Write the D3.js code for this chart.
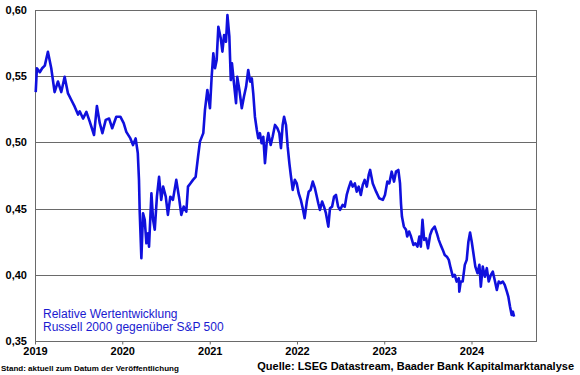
<!DOCTYPE html>
<html>
<head>
<meta charset="utf-8">
<script src="https://cdn.jsdelivr.net/npm/d3@7"></script>
<style>
  body { margin: 0; background: #fff; }
  svg { display: block; font-family: "Liberation Sans", Arial, sans-serif; }
</style>
</head>
<body>
<svg id="chart"></svg>
<script>
const width = 580;
const height = 375;
const margin = { top: 10, right: 43, bottom: 34, left: 35 };

// Relative Wertentwicklung Russell 2000 / S&P 500
const dates = [
  "2019-01-04","2019-01-09","2019-01-21","2019-01-31","2019-02-11","2019-02-24","2019-03-10","2019-03-24",
  "2019-04-07","2019-04-21","2019-05-05","2019-05-19","2019-06-02","2019-06-16","2019-06-30","2019-07-07",
  "2019-07-21","2019-08-04","2019-08-18","2019-09-05","2019-09-17","2019-09-29","2019-10-10","2019-10-24",
  "2019-11-07","2019-11-20","2019-12-07","2019-12-24","2020-01-07","2020-01-18","2020-02-04","2020-02-15",
  "2020-02-26","2020-03-06","2020-03-11","2020-03-14","2020-03-21","2020-03-28","2020-04-04","2020-04-11",
  "2020-04-18","2020-04-22","2020-05-02","2020-05-09","2020-05-16","2020-05-25","2020-06-03","2020-06-12",
  "2020-06-20","2020-07-01","2020-07-10","2020-07-20","2020-07-31","2020-08-14","2020-08-25","2020-09-04",
  "2020-09-14","2020-09-25","2020-10-02","2020-10-12","2020-10-23","2020-11-03","2020-11-13","2020-11-21",
  "2020-12-05","2020-12-12","2020-12-22","2021-01-02","2021-01-09","2021-01-16","2021-01-23","2021-01-30",
  "2021-02-06","2021-02-16","2021-02-23","2021-03-02","2021-03-10","2021-03-16","2021-03-24","2021-03-30",
  "2021-04-04","2021-04-13","2021-04-21","2021-04-26","2021-05-05","2021-05-15","2021-05-24","2021-06-02",
  "2021-06-11","2021-06-19","2021-06-26","2021-07-02","2021-07-09","2021-07-17","2021-07-23","2021-07-30",
  "2021-08-06","2021-08-13","2021-08-20","2021-08-27","2021-09-03","2021-09-13","2021-09-21","2021-10-01",
  "2021-10-11","2021-10-19","2021-10-26","2021-11-02","2021-11-08","2021-11-16","2021-11-23","2021-11-30",
  "2021-12-06","2021-12-14","2021-12-23","2021-12-31","2022-01-08","2022-01-17","2022-01-25","2022-02-02",
  "2022-02-11","2022-02-19","2022-02-27","2022-03-08","2022-03-17","2022-03-25","2022-03-31","2022-04-07",
  "2022-04-16","2022-04-24","2022-05-02","2022-05-12","2022-05-19","2022-05-28","2022-06-05","2022-06-13",
  "2022-06-22","2022-06-30","2022-07-11","2022-07-20","2022-07-28","2022-08-05","2022-08-14","2022-08-22",
  "2022-08-31","2022-09-08","2022-09-16","2022-09-25","2022-10-03","2022-10-11","2022-10-20","2022-10-28",
  "2022-11-03","2022-11-14","2022-11-28","2022-12-11","2022-12-26","2023-01-04","2023-01-14","2023-01-22",
  "2023-02-01","2023-02-11","2023-02-19","2023-03-01","2023-03-08","2023-03-12","2023-03-16","2023-03-24",
  "2023-04-02","2023-04-07","2023-04-15","2023-04-23","2023-05-03","2023-05-11","2023-05-20","2023-05-28",
  "2023-06-03","2023-06-10","2023-06-17","2023-06-25","2023-07-03","2023-07-12","2023-07-20","2023-07-31",
  "2023-08-09","2023-08-17","2023-08-25","2023-09-03","2023-09-11","2023-09-20","2023-09-28","2023-10-06",
  "2023-10-15","2023-10-23","2023-10-31","2023-11-09","2023-11-11","2023-11-17","2023-11-25","2023-12-04",
  "2023-12-12","2023-12-19","2023-12-26","2024-01-02","2024-01-09","2024-01-17","2024-01-26","2024-02-03",
  "2024-02-09","2024-02-17","2024-02-26","2024-03-05","2024-03-13","2024-03-22","2024-03-30","2024-04-07",
  "2024-04-16","2024-04-24","2024-05-02","2024-05-11","2024-05-19","2024-05-28","2024-06-03","2024-06-10",
  "2024-06-17","2024-06-22","2024-06-27"
];
const values = [
  0.538,0.556,0.553,0.556,0.558,0.5685,0.556,0.538,
  0.546,0.538,0.5496,0.537,0.532,0.527,0.521,0.5235,
  0.518,0.523,0.5157,0.5056,0.5275,0.5145,0.507,0.517,
  0.518,0.5107,0.5194,0.5194,0.5145,0.508,0.503,0.498,
  0.503,0.492,0.4717,0.4477,0.4125,0.4465,0.4415,0.4238,
  0.4314,0.4213,0.4616,0.4415,0.434,0.459,0.474,0.4566,
  0.4666,0.459,0.4452,0.459,0.4566,0.4717,0.459,0.4452,
  0.4515,0.4477,0.4666,0.469,0.4717,0.474,0.489,0.5006,
  0.507,0.5245,0.5396,0.5258,0.5496,0.5673,0.556,0.5623,
  0.5874,0.5786,0.5685,0.5811,0.576,0.5962,0.580,0.5471,
  0.5597,0.5434,0.5296,0.5496,0.5396,0.5258,0.5345,0.542,
  0.5547,0.5459,0.5484,0.5371,0.5194,0.5094,0.5031,0.507,
  0.4994,0.5043,0.4843,0.4994,0.507,0.498,0.5043,0.5132,
  0.5107,0.507,0.4956,0.5132,0.5194,0.5132,0.4968,0.4843,
  0.4754,0.4641,0.4717,0.469,0.4616,0.4566,0.4503,0.4428,
  0.4553,0.4628,0.4641,0.4704,0.4654,0.459,0.454,0.449,
  0.4553,0.4515,0.4465,0.4364,0.4503,0.4515,0.459,0.4603,
  0.4515,0.449,0.4528,0.4515,0.4603,0.4654,0.4704,0.4666,
  0.469,0.4628,0.4666,0.4603,0.4679,0.4717,0.4666,0.4754,
  0.4792,0.469,0.4628,0.4578,0.4566,0.4603,0.4704,0.469,
  0.4779,0.4704,0.4779,0.4792,0.469,0.454,0.444,0.4364,
  0.434,0.4289,0.4327,0.4289,0.4226,0.4238,0.4213,0.4289,
  0.4213,0.4415,0.4264,0.4276,0.42,0.4301,0.434,0.4364,
  0.4314,0.4264,0.4226,0.4188,0.415,0.4137,0.4113,0.405,
  0.3986,0.40,0.3949,0.3974,0.3873,0.3949,0.3949,0.4075,
  0.4113,0.425,0.4319,0.425,0.4163,0.4062,0.4012,0.4075,
  0.3911,0.4062,0.3986,0.405,0.3949,0.40,0.4024,0.3961,
  0.3886,0.3949,0.3937,0.3949,0.3924,0.3873,0.3835,0.376,
  0.3697,0.3722,0.3684
];
const yTicks = [0.35, 0.40, 0.45, 0.50, 0.55, 0.60];
const xTicks = ["2019-01-01","2020-01-01","2021-01-01","2022-01-01","2023-01-01","2024-01-01"];
const xDomain = ["2019-01-01", "2024-10-01"];
const legendLines = ["Relative Wertentwicklung", "Russell 2000 gegenüber S&P 500"];

const parse = d3.timeParse("%Y-%m-%d");
const data = dates.map((d, i) => ({ date: parse(d), value: values[i] }));

const svg = d3.select("#chart")
    .attr("width", width)
    .attr("height", height);

const x = d3.scaleTime()
    .domain(xDomain.map(parse))
    .range([margin.left, width - margin.right]);

const y = d3.scaleLinear()
    .domain([0.35, 0.60])
    .range([height - margin.bottom, margin.top]);

const gridColor = "#6a6a6a";
const fmt = v => d3.format(".2f")(v).replace(".", ",");

// Gitterlinien
svg.append("g")
    .selectAll("line")
    .data(yTicks)
    .enter().append("line")
    .attr("x1", margin.left)
    .attr("x2", width - margin.right)
    .attr("y1", d => Math.round(y(d)) + 0.5)
    .attr("y2", d => Math.round(y(d)) + 0.5)
    .attr("stroke", gridColor)
    .attr("stroke-width", 1);

// Rahmen
svg.append("rect")
    .attr("x", margin.left + 0.5)
    .attr("y", margin.top + 0.5)
    .attr("width", width - margin.left - margin.right - 1)
    .attr("height", height - margin.top - margin.bottom)
    .attr("fill", "none")
    .attr("stroke", gridColor)
    .attr("stroke-width", 1);

// Y-Achse
const yAxis = svg.append("g")
    .attr("transform", `translate(${margin.left}, 0)`)
    .call(d3.axisLeft(y).tickValues(yTicks).tickSize(0).tickPadding(8).tickFormat(fmt));
yAxis.select(".domain").remove();
yAxis.selectAll("text")
    .attr("fill", "#000")
    .style("font-size", "11px")
    .style("font-weight", "bold")
    .style("font-family", "'Liberation Sans', Arial, sans-serif");

// X-Achse
const xAxis = svg.append("g")
    .attr("transform", `translate(0, ${height - margin.bottom + 0.5})`)
    .call(d3.axisBottom(x).tickValues(xTicks.map(parse)).tickSize(3).tickPadding(3)
        .tickFormat(d3.timeFormat("%Y")));
xAxis.select(".domain").remove();
xAxis.selectAll("line").attr("stroke", gridColor);
xAxis.selectAll("text")
    .attr("fill", "#000")
    .style("font-size", "11px")
    .style("font-weight", "bold")
    .style("font-family", "'Liberation Sans', Arial, sans-serif");

// Linie
const line = d3.line()
    .x(d => x(d.date))
    .y(d => y(d.value));

svg.append("path")
    .datum(data)
    .attr("fill", "none")
    .attr("stroke", "#1010dd")
    .attr("stroke-width", 2.6)
    .attr("stroke-linejoin", "round")
    .attr("d", line);

// Legende
svg.append("g")
    .selectAll("text")
    .data(legendLines)
    .enter().append("text")
    .attr("x", 43)
    .attr("y", (d, i) => 318 + i * 13)
    .attr("fill", "#1a1ad0")
    .style("font-size", "12px")
    .text(d => d);

// Fußnoten
svg.append("text")
    .attr("x", 1)
    .attr("y", 371)
    .attr("fill", "#000")
    .style("font-size", "8px")
    .style("font-weight", "bold")
    .text("Stand: aktuell zum Datum der Veröffentlichung");

svg.append("text")
    .attr("x", 574)
    .attr("y", 370)
    .attr("text-anchor", "end")
    .attr("fill", "#000")
    .style("font-size", "11px")
    .style("font-weight", "bold")
    .text("Quelle: LSEG Datastream, Baader Bank Kapitalmarktanalyse");
</script>
</body>
</html>
